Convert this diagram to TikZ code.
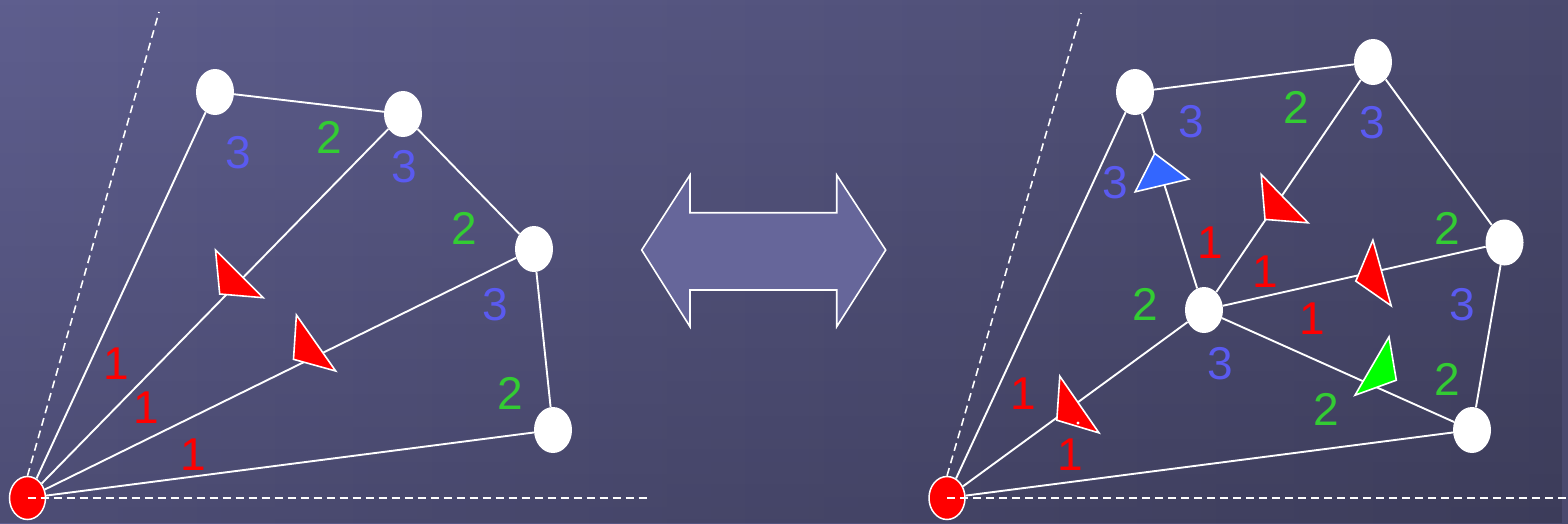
\documentclass[tikz,border=0pt]{standalone}
\usepackage{fontspec}
\setmainfont{Liberation Sans}
\usetikzlibrary{shapes.geometric,fadings}
\definecolor{bgL}{HTML}{5E5E8E}
\definecolor{bgR}{HTML}{4A4A6E}
\definecolor{numblue}{HTML}{5A5AF0}
\definecolor{numgreen}{HTML}{33CC33}
\definecolor{triblue}{HTML}{3366FF}
\definecolor{trigreen}{HTML}{00FF00}
\definecolor{arrfill}{HTML}{66669A}
\begin{document}
\begin{tikzpicture}[x=1pt,y=-1pt,
  vtx/.style={ellipse, fill=white, minimum width=38pt, minimum height=46pt, inner sep=0pt},
  root/.style={ellipse, fill=red, draw=white, line width=1.5pt, minimum width=36pt, minimum height=43pt, inner sep=0pt},
  edge/.style={white, line width=1.9pt},
  guide/.style={white, line width=1.6pt, dash pattern=on 8pt off 5pt},
  tri/.style={draw=white, line width=1.6pt, line join=miter},
  lbl/.style={font=\fontsize{46}{46}\selectfont, inner sep=0pt},
  one/.style={lbl, text=red},
  two/.style={lbl, text=numgreen},
  three/.style={lbl, text=numblue}]
\useasboundingbox (0,0) rectangle (1568,523);
% background
\shade[left color=bgL, right color=bgR] (0,0) rectangle (1568,523);
\begin{scope}[y=1pt]
  \fill[black, fill opacity=0.18, path fading=north] (0,-523) rectangle (1568,0);
\end{scope}
% double arrow
\draw[fill=arrfill, draw=white, line width=1.6pt, line join=miter]
  (641.7,250) -- (690,175) -- (690,212.7) -- (836.7,212.7) -- (836.7,175) -- (885.7,250)
  -- (836.7,326.7) -- (836.7,290) -- (690,290) -- (690,326.7) -- cycle;
% ---------- left graph ----------
\node[root] (r1) at (27.5,498) {};
\node[vtx] (a1) at (215,92) {};
\node[vtx] (b1) at (403,114) {};
\node[vtx] (c1) at (534,249) {};
\node[vtx] (d1) at (553,430) {};
\draw[edge] (r1) -- (a1);
\draw[edge] (a1) -- (b1);
\draw[edge] (b1) -- (c1);
\draw[edge] (c1) -- (d1);
\draw[edge] (r1) -- (d1);
\draw[edge] (r1) -- (b1);
\draw[edge] (r1) -- (c1);
\draw[tri, fill=red] (215.5,250) -- (219.7,294) -- (263.2,297.7) -- cycle;
\draw[tri, fill=red] (296.4,315) -- (293.5,359.3) -- (335.7,371) -- cycle;
\node[three] (l3a) at (238,153) {3};
\node[two]   (l2a) at (329,137) {2};
\node[three] (l3b) at (404,167) {3};
\node[two]   (l2b) at (464,228) {2};
\node[three] (l3c) at (495,305) {3};
\node[two]   (l2c) at (510,393) {2};
\node[one]   (l1a) at (116,364) {1};
\node[one]   (l1b) at (146,408) {1};
\node[one]   (l1c) at (193,455) {1};
\coordinate (g1) at (159,12);
\coordinate (h1) at (650,498);
\draw[guide] (r1.north) -- (g1);
\draw[guide] (r1.center) -- (h1);
% ---------- right graph ----------
\node[root] (r2) at (947,498) {};
\node[vtx] (p1) at (1135,92) {};
\node[vtx] (p2) at (1373,62) {};
\node[vtx] (p3) at (1504.5,242.5) {};
\node[vtx] (p4) at (1472,430) {};
\node[vtx] (p5) at (1204,310) {};
\draw[edge] (r2) -- (p1);
\draw[edge] (p1) -- (p2);
\draw[edge] (p2) -- (p3);
\draw[edge] (p3) -- (p4);
\draw[edge] (r2) -- (p4);
\draw[edge] (p1) -- (p5);
\draw[edge] (p5) -- (p2);
\draw[edge] (p5) -- (p3);
\draw[edge] (p5) -- (p4);
\draw[edge] (p5) -- (r2);
\draw[tri, fill=triblue] (1154.7,153.4) -- (1135.2,191.8) -- (1188.8,179.1) -- cycle;
\draw[tri, fill=red] (1261.2,174.4) -- (1265,219.4) -- (1308.1,222.8) -- cycle;
\draw[tri, fill=red] (1372.9,240.1) -- (1355.8,281.1) -- (1391.2,305.8) -- cycle;
\draw[tri, fill=trigreen] (1389,336.8) -- (1355,395.2) -- (1396.3,380.2) -- cycle;
\draw[tri, fill=red] (1059.8,376.2) -- (1056.8,420.2) -- (1099,432.9) -- cycle;
\fill[white] (1078,423) circle (1.6);
\node[three] (m3a) at (1191,122) {3};
\node[two]   (m2a) at (1296,107) {2};
\node[three] (m3b) at (1372,123) {3};
\node[three] (m3c) at (1115,183) {3};
\node[one]   (m1a) at (1210,243) {1};
\node[one]   (m1b) at (1265,272) {1};
\node[two]   (m2b) at (1447,228) {2};
\node[two]   (m2c) at (1145,304) {2};
\node[one]   (m1c) at (1312,319) {1};
\node[three] (m3d) at (1462,305) {3};
\node[three] (m3e) at (1220,364) {3};
\node[two]   (m2d) at (1447,379) {2};
\node[two]   (m2e) at (1326,409) {2};
\node[one]   (m1d) at (1023,394) {1};
\node[one]   (m1e) at (1070,455) {1};
\coordinate (g2) at (1081,13);
\coordinate (h2) at (1568,498);
\draw[guide] (r2.north) -- (g2);
\draw[guide] (r2.center) -- (h2);
\end{tikzpicture}
\end{document}
